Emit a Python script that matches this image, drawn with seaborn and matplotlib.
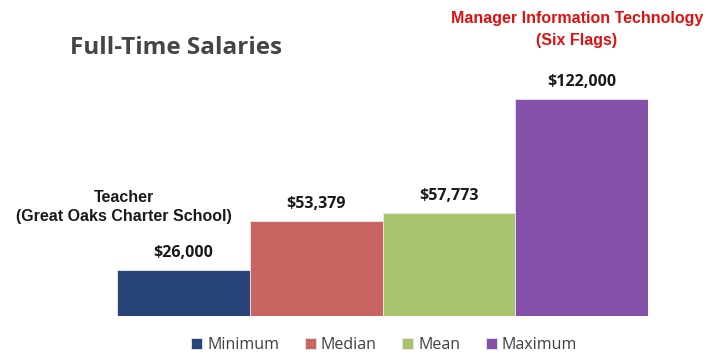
import matplotlib
matplotlib.use("Agg")
import matplotlib.pyplot as plt
import seaborn as sns
import pandas as pd

# Salary summary values
categories = ["Minimum", "Median", "Mean", "Maximum"]
salaries = [26000, 53379, 57773, 122000]
value_labels = ["$26,000", "$53,379", "$57,773", "$122,000"]
colors = ["#294479", "#c86562", "#a9c46f", "#8450a9"]

sns.set_theme(style="white")
plt.rcParams["font.family"] = ["Open Sans", "DejaVu Sans"]

fig = plt.figure(figsize=(7.06, 3.53), dpi=100)
ax = fig.add_axes([117 / 706, 1 - 316 / 353, 531 / 706, 296 / 353])

df = pd.DataFrame({"category": categories, "salary": salaries})
sns.barplot(data=df, x="category", y="salary", hue="category",
            palette=colors, saturation=1, width=1.0, ax=ax, legend=True,
            edgecolor="#e8e8f0", linewidth=0.6)

ax.set_xlim(-0.5, 3.5)
ax.set_ylim(0, 122000 * 296 / 217)
ax.axis("off")

# Value labels above each bar
for i, (v, lab) in enumerate(zip(salaries, value_labels)):
    ax.annotate(lab, (i, v), xytext=(0, 6.5), textcoords="offset points",
                ha="center", va="bottom", fontsize=11.5, fontweight="bold",
                color="#1a1a1a")

# Titles and callouts
fig.text(70 / 706, 1 - 48 / 353, "Full-Time Salaries", fontsize=17.5,
         fontweight="bold", color="#454545", ha="left", va="center")
fig.text(577 / 706, 1 - 18 / 353, "Manager Information Technology",
         fontsize=11.5, fontweight="bold", color="#e01010", ha="center",
         va="center", family="Liberation Sans")
fig.text(577 / 706, 1 - 40 / 353, "(Six Flags)",
         fontsize=11.5, fontweight="bold", color="#e01010", ha="center",
         va="center", family="Liberation Sans")
fig.text(124 / 706, 1 - 197 / 353, "Teacher",
         fontsize=11.5, fontweight="bold", color="#1a1a1a", ha="center",
         va="center", family="Liberation Sans")
fig.text(124 / 706, 1 - 216 / 353, "(Great Oaks Charter School)",
         fontsize=11.5, fontweight="bold", color="#1a1a1a", ha="center",
         va="center", family="Liberation Sans")

# Legend along the bottom
handles, labels = ax.get_legend_handles_labels()
ax.get_legend().remove()
fig.legend(handles, labels, loc="center", bbox_to_anchor=(384 / 706, 1 - 345 / 353),
           ncol=4, frameon=False, fontsize=11.5, handlelength=0.7,
           handleheight=0.7, handletextpad=0.3, columnspacing=1.6,
           labelcolor="#404040")

fig.savefig("out.png", dpi=100)
